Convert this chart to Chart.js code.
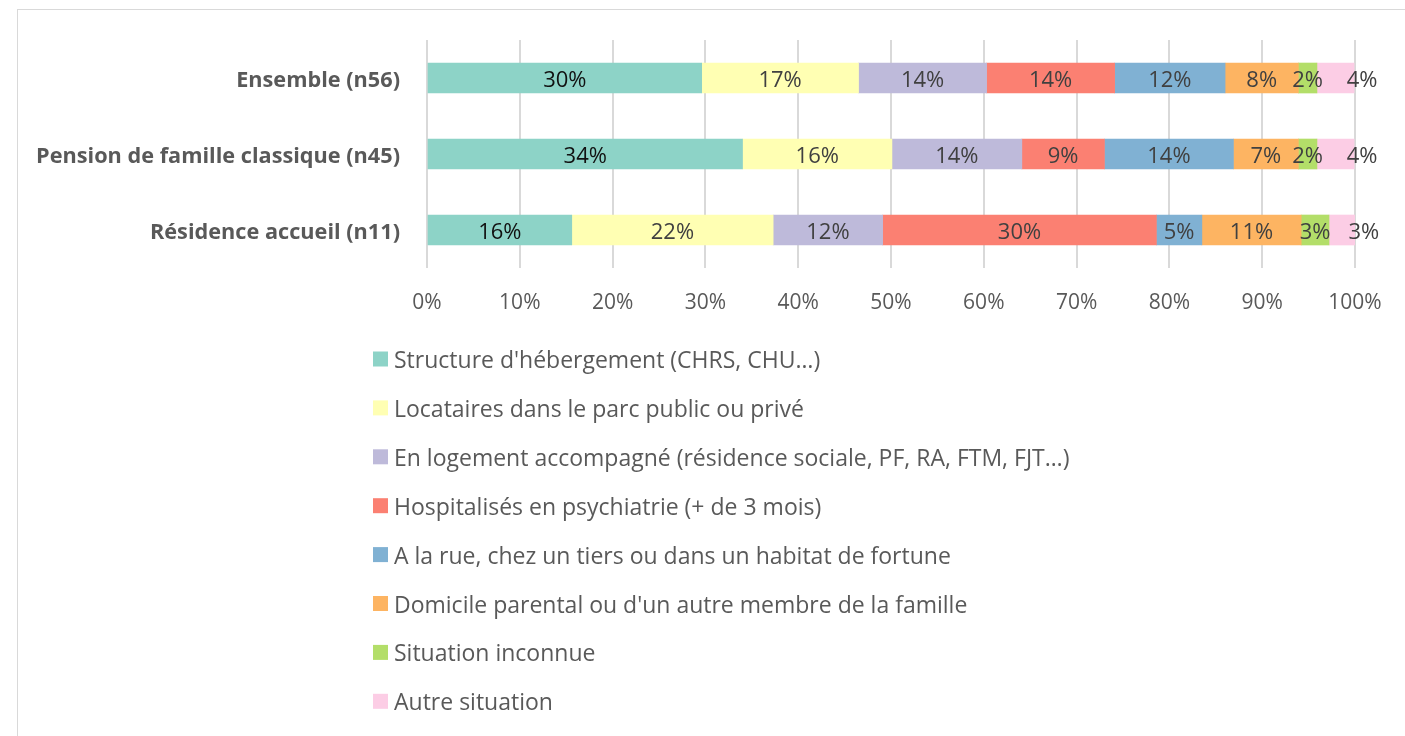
<!DOCTYPE html>
<html lang="fr">
<head>
  <meta charset="UTF-8">
  <title>Situation avant l'entrée</title>
  <style>
    html, body { margin: 0; padding: 0; background: #fff; }
    canvas { display: block; }
  </style>
</head>
<body>
  <canvas id="myChart" width="1405" height="736"></canvas>
  <script src="https://cdn.jsdelivr.net/npm/chart.js"></script>
  <script>
    // categories (rows of the chart)
    const categories = ['Ensemble (n56)', 'Pension de famille classique (n45)', 'Résidence accueil (n11)']

    // series names, in stacking order
    const seriesNames = [
      "Structure d'hébergement (CHRS, CHU…)",
      'Locataires dans le parc public ou privé',
      'En logement accompagné (résidence sociale, PF, RA, FTM, FJT…)',
      'Hospitalisés en psychiatrie (+ de 3 mois)',
      'A la rue, chez un tiers ou dans un habitat de fortune',
      "Domicile parental ou d'un autre membre de la famille",
      'Situation inconnue',
      'Autre situation'
    ]

    // values in %, one per category
    const structure   = [29.6, 34.0, 15.6]
    const locataires  = [16.9, 16.1, 21.7]
    const accompagne  = [13.8, 14.0, 11.8]
    const psychiatrie = [13.8, 8.9, 29.5]
    const rue         = [11.9, 13.9, 4.9]
    const parental    = [7.9, 7.0, 10.7]
    const inconnue    = [2.0, 2.0, 3.0]
    const autre       = [4.0, 4.0, 2.9]

    const xTicks = [0, 10, 20, 30, 40, 50, 60, 70, 80, 90, 100]

    const colors = ['#8DD3C7', '#FFFFB3', '#BEBADA', '#FB8072', '#80B1D3', '#FDB462', '#B3DE69', '#FCCDE5']
    const series = [structure, locataires, accompagne, psychiatrie, rue, parental, inconnue, autre]

    const gray = '#595959'
    const font = "'Open Sans'"

    // white background + light frame like the excel export
    const frame = {
      id: 'frame',
      beforeDraw(chart) {
        const c = chart.ctx
        c.save()
        c.fillStyle = '#fff'
        c.fillRect(0, 0, chart.width, chart.height)
        c.strokeStyle = '#d9d9d9'
        c.lineWidth = 1
        c.strokeRect(17.5, 9.5, chart.width + 20, chart.height + 20)
        c.restore()
      }
    }

    // percentage labels inside the segments
    const barLabels = {
      id: 'barLabels',
      afterDatasetsDraw(chart) {
        const c = chart.ctx
        c.save()
        c.font = `22px ${font}`
        c.textAlign = 'center'
        c.textBaseline = 'middle'
        const last = chart.data.datasets.length - 1
        chart.data.datasets.forEach((ds, i) => {
          const meta = chart.getDatasetMeta(i)
          c.fillStyle = i === 0 ? '#111' : '#404040'
          meta.data.forEach((bar, j) => {
            const x = i === last ? bar.x + 8 : (bar.x + bar.base) / 2
            c.fillText(Math.round(ds.data[j]) + '%', x, bar.y + 3)
          })
        })
        c.restore()
      }
    }

    // one legend entry per line, under the plot
    const listLegend = {
      id: 'listLegend',
      afterDraw(chart) {
        const c = chart.ctx
        c.save()
        c.font = `23px ${font}`
        c.textBaseline = 'middle'
        chart.data.datasets.forEach((ds, i) => {
          const y = 359 + i * 48.9
          c.fillStyle = ds.backgroundColor
          c.fillRect(373, y - 7.5, 15, 15)
          c.fillStyle = gray
          c.fillText(ds.label, 394, y + 2.5)
        })
        c.restore()
      }
    }

    const ctx = document.getElementById('myChart')

    new Chart(ctx, {
      type: 'bar',
      data: {
        labels: categories,
        datasets: series.map((data, i) => ({
          label: seriesNames[i],
          data: data,
          backgroundColor: colors[i],
          borderWidth: 0,
          barThickness: 30
        }))
      },
      options: {
        indexAxis: 'y',
        responsive: false,
        animation: false,
        devicePixelRatio: 1,
        layout: { padding: { top: 40, bottom: 408, left: 0, right: 50 } },
        plugins: {
          legend: { display: false },
          tooltip: { enabled: false }
        },
        scales: {
          x: {
            stacked: true,
            min: 0,
            max: 100,
            afterBuildTicks: s => { s.ticks = xTicks.map(v => ({ value: v })) },
            afterFit: s => { s.height = 60 },
            ticks: {
              callback: v => v + '%',
              color: gray,
              font: { family: font, size: 21 },
              padding: 22
            },
            grid: { color: '#d9d9d9', lineWidth: 2, drawTicks: false },
            border: { display: false }
          },
          y: {
            stacked: true,
            afterFit: s => { s.width = 427 },
            ticks: {
              color: gray,
              font: { family: font, size: 21.7, weight: 'bold' },
              padding: 27,
              labelOffset: 3
            },
            grid: { display: false, drawTicks: false },
            border: { display: false }
          }
        }
      },
      plugins: [frame, barLabels, listLegend]
    })
  </script>
</body>
</html>
